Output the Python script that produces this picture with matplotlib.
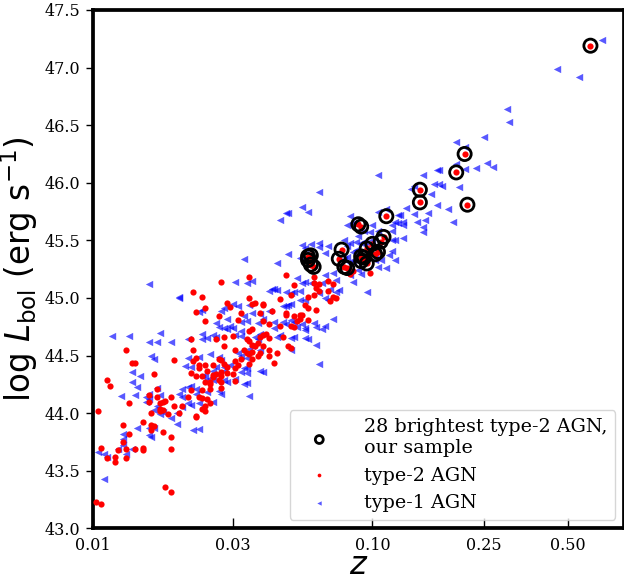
import matplotlib
matplotlib.use('Agg')
import matplotlib.pyplot as plt

plt.rcParams['font.family'] = 'serif'
plt.rcParams['font.serif'] = ['DejaVu Serif']
plt.rcParams['mathtext.fontset'] = 'dejavusans'

# type-2 AGN (log z, log Lbol)
type2_logz = [
    -1.88, -1.86, -1.85, -1.71, -1.95, -1.94, -1.78, -1.98, -1.87, -1.77,
    -1.77, -1.80, -1.80, -1.76, -1.75, -1.74, -1.72, -1.79, -1.76, -1.75,
    -1.76, -1.71, -1.73, -1.69, -1.63, -1.63, -1.60, -1.89, -1.82, -1.79,
    -1.78, -1.79, -1.75, -1.87, -1.89, -1.72, -1.97, -1.91, -1.88, -1.85,
    -1.82, -1.82, -1.72, -1.95, -1.92, -1.92, -1.88, -1.74, -1.72, -1.99,
    -1.97,
    -1.31, -1.44, -1.54, -1.28, -1.21, -1.21, -1.19, -1.20, -1.16, -1.14,
    -1.64, -1.61, -1.44, -1.33, -1.29, -1.23, -1.21, -1.19, -1.16, -1.14,
    -1.15, -1.13, -1.52, -1.51, -1.43, -1.42, -1.39, -1.39, -1.60, -1.47,
    -1.55, -1.63, -1.60, -1.48, -1.40, -1.36, -1.31, -1.31, -1.28, -1.26,
    -1.25, -1.26, -1.27, -1.24, -1.23, -1.23, -1.20, -1.39, -1.37, -1.33,
    -1.29, -1.28, -1.44, -1.43, -1.50, -1.53, -1.56, -1.39, -1.37, -1.38,
    -1.40, -1.32, -1.30, -1.29, -1.45, -1.44, -1.43, -1.42, -1.41, -1.39,
    -1.65, -1.64, -1.53, -1.46, -1.45, -1.44, -1.43, -1.43, -1.44, -1.49,
    -1.37, -1.34, -1.37, -1.41, -1.40, -1.47, -1.48, -1.49, -1.49, -1.35,
    -1.63, -1.64, -1.62, -1.62, -1.60, -1.57, -1.55, -1.54, -1.53, -1.52,
    -1.52, -1.50, -1.49, -1.54, -1.54, -1.56, -1.55, -1.54, -1.54, -1.59,
    -1.57, -1.57, -1.65, -1.63, -1.61, -1.58, -1.58, -1.60, -1.61, -1.65,
    -1.66, -1.62, -1.61, -1.59, -1.58, -1.61, -1.60, -1.68, -1.58, -1.08,
    -1.07, -1.01,
]
type2_logL = [
    44.55, 44.44, 44.44, 44.46, 44.29, 44.24, 44.34, 44.02, 44.09, 44.21,
    44.14, 44.16, 44.10, 44.09, 44.10, 44.11, 44.14, 44.00, 44.02, 44.03,
    44.04, 44.06, 43.99, 44.00, 43.98, 43.97, 44.02, 43.90, 43.92, 43.90,
    43.89, 43.85, 43.84, 43.82, 43.75, 43.79, 43.70, 43.68, 43.69, 43.69,
    43.70, 43.68, 43.69, 43.61, 43.62, 43.58, 43.61, 43.36, 43.32, 43.23,
    43.21,
    45.20, 45.18, 45.14, 45.11, 45.18, 45.13, 45.12, 45.09, 45.15, 45.12,
    45.05, 45.01, 45.00, 44.99, 45.03, 45.01, 45.03, 45.06, 45.06, 45.01,
    44.97, 45.00, 44.96, 44.92, 44.95, 44.96, 44.94, 44.95, 44.91, 44.87,
    44.84, 44.88, 44.80, 44.81, 44.87, 44.89, 44.87, 44.85, 44.84, 44.85,
    44.85, 44.82, 44.80, 44.94, 44.91, 44.81, 44.90, 44.80, 44.77, 44.76,
    44.76, 44.75, 44.71, 44.73, 44.67, 44.66, 44.64, 44.68, 44.65, 44.69,
    44.66, 44.66, 44.58, 44.57, 44.64, 44.63, 44.59, 44.58, 44.61, 44.58,
    44.64, 44.55, 44.58, 44.55, 44.52, 44.51, 44.53, 44.47, 44.43, 44.55,
    44.55, 44.52, 44.50, 44.50, 44.52, 44.47, 44.42, 44.45, 44.39, 44.44,
    44.48, 44.45, 44.42, 44.39, 44.42, 44.42, 44.47, 44.46, 44.43, 44.40,
    44.35, 44.34, 44.28, 44.36, 44.32, 44.34, 44.29, 44.27, 44.22, 44.37,
    44.31, 44.33, 44.35, 44.32, 44.32, 44.25, 44.27, 44.27, 44.20, 44.20,
    44.14, 44.14, 44.13, 44.12, 44.09, 44.04, 44.06, 44.06, 44.21, 45.21,
    45.23, 45.22,
]

# 28 brightest type-2 AGN (our sample)
bright_logz = [
    -0.22, -0.67, -0.70, -0.66, -0.83, -0.83, -0.95, -1.05, -1.04, -0.96,
    -0.97, -1.00, -1.02, -0.98, -0.99, -1.11, -1.12, -1.04, -1.04, -1.02,
    -1.10, -1.23, -1.22, -1.22, -1.21, -1.09, -1.23, -1.03,
]
bright_logL = [
    47.19, 46.25, 46.09, 45.81, 45.94, 45.83, 45.71, 45.64, 45.62, 45.53,
    45.49, 45.47, 45.43, 45.40, 45.38, 45.42, 45.34, 45.36, 45.32, 45.30,
    45.27, 45.36, 45.37, 45.29, 45.27, 45.26, 45.33, 45.35,
]

# type-1 AGN
type1_logz = [
    -1.93, -1.87, -1.76, -1.80, -1.77, -1.72, -1.79, -1.78, -1.86, -1.83,
    -1.86, -1.84, -1.90, -1.85, -1.80, -1.81, -1.81, -1.80, -1.76, -1.77,
    -1.77, -1.78, -1.76, -1.75, -1.72, -1.70, -1.70, -1.84, -1.80, -1.80,
    -1.79, -1.78, -1.89, -1.89, -1.86, -1.91, -1.95, -1.98, -1.96, -1.88,
    -1.96, -1.64, -1.62, -1.89, -1.80, -1.69,
    -1.46, -1.30, -1.34, -1.49, -1.45, -1.43, -1.36, -1.35, -1.34, -1.37,
    -1.27, -1.25, -1.24, -1.22, -1.31, -1.29, -1.28, -1.26, -1.26, -1.24,
    -1.17, -1.18, -1.15, -1.13, -1.19, -1.17, -1.13, -1.12, -1.16, -1.69,
    -1.62, -1.61, -1.54, -1.53, -1.50, -1.48, -1.44, -1.43, -1.37, -1.32,
    -1.31, -1.30, -1.29, -1.40, -1.39, -1.46, -1.47, -1.45, -1.52, -1.56,
    -1.55, -1.53, -1.52, -1.51, -1.50, -1.41, -1.35, -1.35, -1.32, -1.31,
    -1.29, -1.28, -1.27, -1.25, -1.24, -1.24, -1.21, -1.20, -1.18, -1.17,
    -1.14, -1.61, -1.66, -1.61, -1.59, -1.57, -1.56, -1.49, -1.47, -1.47,
    -1.42, -1.41, -1.40, -1.34, -1.33, -1.29, -1.28, -1.24, -1.23, -1.20,
    -1.19, -1.29, -1.40, -1.44, -1.43, -1.48, -1.47, -1.45, -1.58, -1.55,
    -1.54, -1.62, -1.66, -1.67, -1.65, -1.53, -1.53, -1.51, -1.40, -1.39,
    -1.47, -1.46, -1.45, -1.45, -1.56, -1.57, -1.60, -1.61, -1.59, -1.57,
    -1.53, -1.52, -1.49, -1.45, -1.46, -1.44, -1.65, -1.66, -1.68, -1.63,
    -1.63, -1.59, -1.55, -1.54, -1.69, -1.68, -1.66, -1.65, -1.62, -1.68,
    -1.57,
    -1.19, -1.31, -1.30, -1.33, -1.25, -1.23, -1.09, -1.10, -1.08, -1.22,
    -1.25, -1.24, -1.19, -1.19, -1.16, -1.09, -1.26,
    -0.98, -0.82, -0.77, -0.86, -0.85, -0.78, -0.76, -0.79, -0.98, -0.95,
    -0.91, -0.90, -0.88, -0.85, -0.81, -0.80, -0.77, -0.84, -0.82, -1.08,
    -1.07, -0.92, -0.91, -0.89, -0.89, -0.93, -0.93, -1.00, -0.98, -1.01,
    -1.03, -1.00, -0.93, -0.92, -0.89, -0.82, -1.06, -1.03, -1.01, -1.05,
    -1.07, -1.06, -0.99, -0.99, -0.97, -0.98, -0.94, -0.93, -0.92, -0.95,
    -1.02, -1.08, -1.07, -1.05, -1.04, -1.08, -1.07, -1.04, -1.14, -1.09,
    -1.10, -1.17,
    -0.18, -0.34, -0.26, -0.52, -0.51, -0.60, -0.70, -0.67, -0.59, -0.57,
    -0.63, -0.70, -0.67, -0.76, -0.75, -0.69, -0.73, -0.71,
]
type1_logL = [
    44.67, 44.67, 44.70, 44.62, 44.62, 44.62, 44.50, 44.47, 44.36, 44.32,
    44.27, 44.23, 44.15, 44.16, 44.17, 44.14, 44.10, 44.12, 44.16, 44.22,
    44.06, 44.03, 43.99, 44.01, 43.96, 44.00, 43.91, 43.87, 43.87, 43.81,
    43.79, 43.87, 43.82, 43.78, 43.69, 43.69, 43.62, 43.66, 43.65, 43.65,
    43.43, 43.85, 43.86, 43.72, 45.12, 45.01,
    45.34, 45.38, 45.30, 45.14, 45.13, 45.15, 45.08, 45.08, 45.07, 45.06,
    45.17, 45.13, 45.14, 45.13, 45.05, 45.04, 45.05, 45.06, 44.98, 44.98,
    45.20, 45.13, 45.08, 45.16, 45.04, 45.00, 45.05, 45.07, 44.98, 45.00,
    44.88, 44.90, 44.89, 44.91, 44.95, 44.93, 44.94, 44.87, 44.89, 44.93,
    44.93, 44.94, 44.95, 44.86, 44.82, 44.84, 44.79, 44.80, 44.82, 44.78,
    44.75, 44.74, 44.73, 44.76, 44.74, 44.78, 44.79, 44.74, 44.79, 44.77,
    44.81, 44.79, 44.75, 44.77, 44.74, 44.72, 44.78, 44.75, 44.73, 44.76,
    44.82, 44.69, 44.64, 44.64, 44.65, 44.68, 44.66, 44.68, 44.67, 44.71,
    44.66, 44.64, 44.69, 44.66, 44.68, 44.65, 44.66, 44.65, 44.64, 44.59,
    44.43, 44.55, 44.55, 44.56, 44.58, 44.52, 44.50, 44.48, 44.51, 44.49,
    44.46, 44.49, 44.48, 44.41, 44.40, 44.40, 44.37, 44.42, 44.37, 44.36,
    44.36, 44.39, 44.35, 44.39, 44.40, 44.37, 44.32, 44.32, 44.29, 44.29,
    44.29, 44.27, 44.30, 44.26, 44.25, 44.15, 44.24, 44.23, 44.21, 44.21,
    44.17, 44.18, 44.19, 44.17, 44.17, 44.14, 44.09, 44.07, 44.09, 44.05,
    44.10,
    45.92, 45.74, 45.74, 45.68, 45.79, 45.75, 45.63, 45.50, 45.48, 45.47,
    45.46, 45.43, 45.48, 45.44, 45.45, 45.45, 45.35,
    46.07, 46.07, 46.11, 45.95, 45.97, 45.99, 45.99, 45.90, 45.75, 45.77,
    45.72, 45.72, 45.78, 45.73, 45.68, 45.74, 45.81, 45.66, 45.62, 45.71,
    45.65, 45.66, 45.65, 45.66, 45.63, 45.63, 45.58, 45.63, 45.58, 45.57,
    45.58, 45.50, 45.50, 45.50, 45.52, 45.57, 45.49, 45.49, 45.47, 45.54,
    45.40, 45.42, 45.33, 45.37, 45.33, 45.27, 45.37, 45.41, 45.33, 45.26,
    45.05, 45.20, 45.14, 45.24, 45.21, 45.30, 45.33, 45.48, 45.22, 45.36,
    45.34, 45.39,
    47.24, 46.99, 46.92, 46.64, 46.53, 46.40, 46.35, 46.31, 46.17, 46.14,
    46.13, 46.16, 46.12, 46.11, 45.97, 45.96, 45.77, 45.66,
]

xtick_pos = [-2.0, -1.5, -1.0, -0.6, -0.3]
xtick_labels = ['0.01', '0.03', '0.10', '0.25', '0.50']
ytick_pos = [43.0, 43.5, 44.0, 44.5, 45.0, 45.5, 46.0, 46.5, 47.0, 47.5]

fig = plt.figure(figsize=(6.24, 5.84), dpi=100)
ax = fig.add_axes([0.1486, 0.0952, 1.0 - 0.1486, 0.9829 - 0.0952])

t1 = ax.scatter(type1_logz, type1_logL, marker='<', s=28, color='blue',
                alpha=0.65, linewidths=0, zorder=2)
t2 = ax.scatter(type2_logz + bright_logz, type2_logL + bright_logL, marker='o',
                s=20, color='red', linewidths=0, zorder=3)
br = ax.scatter(bright_logz, bright_logL, marker='o', s=90, facecolors='none',
                edgecolors='black', linewidths=2, zorder=4)

ax.set_xlim(-2.0, -0.1)
ax.set_ylim(43.0, 47.5)
ax.set_xticks(xtick_pos)
ax.set_xticklabels(xtick_labels)
ax.set_yticks(ytick_pos)
ax.set_yticklabels(['%.1f' % v for v in ytick_pos])

ax.tick_params(axis='x', direction='in', length=7, width=1, pad=6, labelsize=11.5)
ax.tick_params(axis='y', direction='out', length=5, width=1, pad=4, labelsize=11.5)
for sp in ax.spines.values():
    sp.set_linewidth(2.7)

ax.set_xlabel('$z$', fontsize=23, labelpad=-3)
ax.set_ylabel(r'log $L_{\rm bol}$ (erg s$^{-1}$)', fontsize=23.5,
              fontfamily='DejaVu Sans', labelpad=3)

ax.legend([br, t2, t1], ['28 brightest type-2 AGN,\nour sample', 'type-2 AGN', 'type-1 AGN'],
          loc='lower right', fontsize=13.8, markerscale=0.6, handlelength=2.3,
          handletextpad=1.2, borderaxespad=0.45)

fig.savefig('out.png', dpi=100)
